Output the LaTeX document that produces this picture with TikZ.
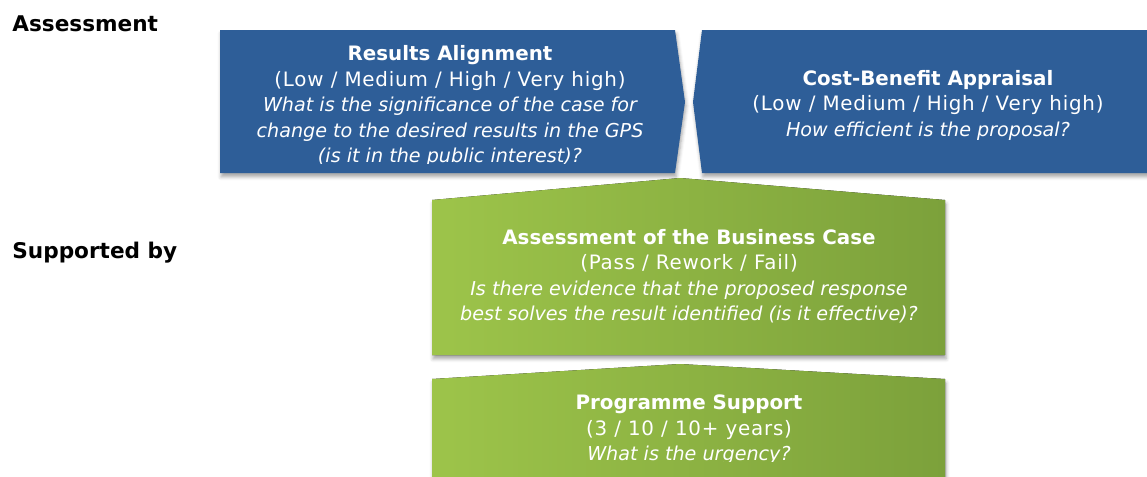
\documentclass[tikz,border=0pt]{standalone}
\usepackage{fontspec}
\setmainfont{DejaVu Sans}
\newfontfamily\widefont[LetterSpace=4]{DejaVu Sans}
\usetikzlibrary{shadows.blur,positioning}

\definecolor{gpsBlue}{HTML}{2E5E98}
\definecolor{gpsGreenL}{HTML}{9DC44A}
\definecolor{gpsGreenD}{HTML}{7CA13B}

% one size for each kind of line in the boxes
\newcommand\boxhead[1]{{\fontsize{11.3}{14.5}\selectfont\bfseries #1}}
\newcommand\boxscale[1]{{\widefont\fontsize{11.3}{14.5}\selectfont #1}}
\newcommand\boxask[1]{{\fontsize{10.9}{14.5}\selectfont\itshape #1}}

\begin{document}
\begin{tikzpicture}[
        x=0.02cm, y=-0.02cm,
        box shadow/.style={blur shadow={shadow xshift=0.6pt, shadow yshift=-2.2pt, shadow blur radius=2pt, shadow opacity=35}},
        blue box/.style={fill=gpsBlue, box shadow},
        green box/.style={left color=gpsGreenL, middle color=gpsGreenL!85!gpsGreenD, right color=gpsGreenD, box shadow},
        side label/.style={font=\bfseries\fontsize{12.3}{14}\selectfont, anchor=base west, inner sep=0pt},
        box text/.style={text=white, align=center, inner sep=0pt, font=\fontsize{11}{14.5}\selectfont}
    ]
    \useasboundingbox (0,0) rectangle (1147,477);

    \node[side label] (assess) at (12,31) {Assessment};
    \node[side label] (support) at (12,258) {Supported by};

    % top row
    \fill[blue box] (220,30) -- (675,30) -- (685,102) -- (675,173) -- (220,173) -- cycle;
    \fill[blue box] (702,30) -- (1160,30) -- (1160,173) -- (702,173) -- (693,102) -- cycle;

    % supporting blocks
    \fill[green box] (432,200) -- (680,178) -- (945,200) -- (945,355) -- (432,355) -- cycle;
    \fill[green box] (432,379) -- (680,364) -- (945,379) -- (945,490) -- (432,490) -- cycle;

    \begin{scope}
        \clip (220,30) rectangle (675,163);
        \node[box text] (align) at (450,106) {\boxhead{Results Alignment}\\
            \boxscale{(Low / Medium / High / Very high)}\\
            \boxask{What is the significance of the case for}\\
            \boxask{change to the desired results in the GPS}\\
            \boxask{(is it in the public interest)?}};
    \end{scope}

    \node[box text] (cba) at (928,105) {\boxhead{Cost-Benefit Appraisal}\\
        \boxscale{(Low / Medium / High / Very high)}\\
        \boxask{How efficient is the proposal?}};

    \node[box text] (bizcase) at (689,276) {\boxhead{Assessment of the Business Case}\\
        \boxscale{(Pass / Rework / Fail)}\\
        \boxask{Is there evidence that the proposed response}\\
        \boxask{best solves the result identified (is it effective)?}};

    \begin{scope}
        \clip (432,379) rectangle (945,461);
        \node[box text] (prog) at (689,430) {\boxhead{Programme Support}\\
            \boxscale{(3 / 10 / 10+ years)}\\
            \boxask{What is the urgency?}};
    \end{scope}
\end{tikzpicture}
\end{document}
